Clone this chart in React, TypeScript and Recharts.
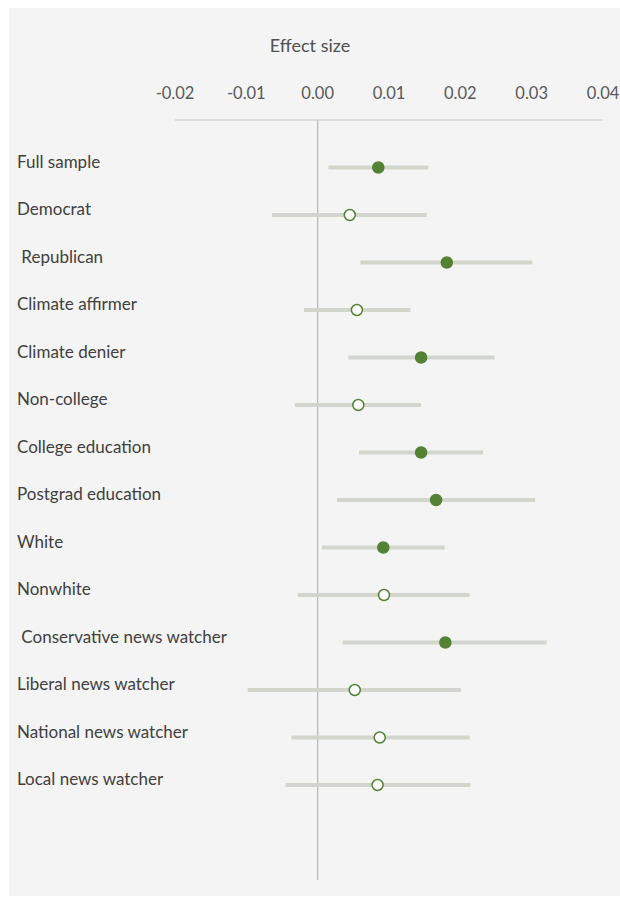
import React from "react";
import {
  ScatterChart,
  Scatter,
  XAxis,
  YAxis,
  ErrorBar,
  ReferenceLine,
} from "recharts";

const groups = [
  "Full sample",
  "Democrat",
  " Republican",
  "Climate affirmer",
  "Climate denier",
  "Non-college",
  "College education",
  "Postgrad education",
  "White",
  "Nonwhite",
  " Conservative news watcher",
  "Liberal news watcher",
  "National news watcher",
  "Local news watcher",
];

const effects = [
  0.0085, 0.0045, 0.0181, 0.0055, 0.0145, 0.0057, 0.0145, 0.0166, 0.0092,
  0.0093, 0.0179, 0.0052, 0.0087, 0.0084,
];

const lower = [
  0.0015, -0.0064, 0.006, -0.0019, 0.0043, -0.0032, 0.0058, 0.0027, 0.0006,
  -0.0028, 0.0035, -0.0098, -0.0037, -0.0045,
];

const upper = [
  0.0155, 0.0153, 0.0301, 0.013, 0.0248, 0.0145, 0.0232, 0.0305, 0.0178,
  0.0213, 0.0321, 0.0201, 0.0213, 0.0214,
];

const significant = [
  true, false, true, false, true, false, true, true, true, false, true, false,
  false, false,
];

const xTicks = [-0.02, -0.01, 0, 0.01, 0.02, 0.03, 0.04];

const GREEN = "#548235";
const FONT = "Lato, 'Open Sans', sans-serif";

const rows = groups.map((name, i) => ({
  name,
  row: i,
  effect: effects[i],
  err: [effects[i] - lower[i], upper[i] - effects[i]],
  sig: significant[i],
}));

const Dot = (props: any) => {
  const { cx, cy, payload } = props;
  return (
    <circle
      cx={cx}
      cy={cy}
      r={5.5}
      fill={payload.sig ? GREEN : "#ffffff"}
      stroke={GREEN}
      strokeWidth={1.5}
    />
  );
};

const XTick = (props: any) => {
  const { x, y, payload } = props;
  return (
    <text
      x={x}
      y={y}
      dy={-21}
      textAnchor="middle"
      fill="#595959"
      fontSize={16.5}
      fontFamily={FONT}
    >
      {Number(payload.value).toFixed(2)}
    </text>
  );
};

const GroupTick = (props: any) => {
  const { y, payload } = props;
  return (
    <text
      x={8}
      y={y}
      dy={-4}
      dominantBaseline="middle"
      textAnchor="start"
      fill="#404040"
      fontSize={17}
      fontFamily={FONT}
      style={{ whiteSpace: "pre" }}
    >
      {groups[payload.value]}
    </text>
  );
};

export default function App() {
  // fixed so the panel never makes the page scroll
  return (
    <div
      style={{
        position: "fixed",
        left: 9,
        top: 8,
        width: 611,
        height: 888,
        background: "#f4f4f4",
      }}
    >
      <div
        style={{
          position: "absolute",
          left: 301,
          top: 26,
          transform: "translateX(-50%)",
          fontFamily: FONT,
          fontSize: 18,
          color: "#505050",
          whiteSpace: "nowrap",
        }}
      >
        Effect size
      </div>
      <ScatterChart
        width={611}
        height={888}
        margin={{ top: 0, right: 17, bottom: 16, left: 0 }}
        style={{ overflow: "visible" }}
      >
        <XAxis
          type="number"
          dataKey="effect"
          orientation="top"
          domain={[-0.02, 0.04]}
          ticks={xTicks}
          height={112}
          tickSize={0}
          tickMargin={0}
          tickLine={false}
          axisLine={{ stroke: "#c4c4c4", strokeWidth: 1.2 }}
          tick={<XTick />}
          allowDataOverflow
        />
        <YAxis
          type="number"
          dataKey="row"
          domain={[-1, 15]}
          ticks={groups.map((_, i) => i)}
          reversed
          width={166}
          axisLine={false}
          tickLine={false}
          tick={<GroupTick />}
          interval={0}
        />
        <ReferenceLine x={0} stroke="#b4b4b4" strokeWidth={1.2} />
        <Scatter
          data={rows}
          dataKey="effect"
          shape={<Dot />}
          isAnimationActive={false}
        >
          <ErrorBar
            dataKey="err"
            direction="x"
            width={0}
            stroke="#d2d5cb"
            strokeWidth={4}
            isAnimationActive={false}
          />
        </Scatter>
      </ScatterChart>
    </div>
  );
}
